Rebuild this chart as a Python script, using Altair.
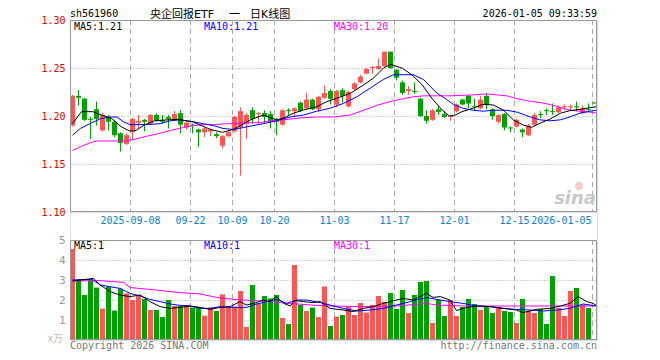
import altair as alt
import pandas as pd

# ---------------- data ----------------
opens = [1.190, 1.221, 1.218, 1.197, 1.207, 1.185, 1.199, 1.194, 1.182, 1.171,
         1.184, 1.193, 1.196, 1.192, 1.201, 1.196, 1.199, 1.196, 1.203, 1.188,
         1.191, 1.186, 1.183, 1.184, 1.181, 1.169, 1.179, 1.184, 1.188, 1.192,
         1.206, 1.202, 1.203, 1.202, 1.196, 1.191, 1.206, 1.205, 1.214, 1.208,
         1.217, 1.207, 1.219, 1.226, 1.212, 1.227, 1.210, 1.228, 1.235, 1.244,
         1.250, 1.249, 1.252, 1.267, 1.248, 1.235, 1.226, 1.226, 1.218, 1.200,
         1.196, 1.207, 1.202, 1.199, 1.205, 1.217, 1.221, 1.210, 1.208, 1.221,
         1.207, 1.194, 1.202, 1.188, 1.189, 1.186, 1.180, 1.191, 1.202, 1.206,
         1.205, 1.204, 1.209, 1.209, 1.210, 1.203, 1.207, 1.214]
closes = [1.221, 1.219, 1.196, 1.196, 1.197, 1.201, 1.194, 1.180, 1.172, 1.180,
          1.197, 1.195, 1.194, 1.201, 1.195, 1.194, 1.197, 1.202, 1.191, 1.193,
          1.190, 1.183, 1.187, 1.186, 1.179, 1.179, 1.183, 1.199, 1.205, 1.201,
          1.197, 1.203, 1.199, 1.194, 1.194, 1.206, 1.205, 1.208, 1.205, 1.217,
          1.207, 1.220, 1.224, 1.218, 1.226, 1.221, 1.225, 1.234, 1.241, 1.249,
          1.251, 1.252, 1.267, 1.250, 1.240, 1.224, 1.228, 1.225, 1.200, 1.195,
          1.206, 1.204, 1.199, 1.200, 1.212, 1.212, 1.213, 1.209, 1.217, 1.212,
          1.200, 1.201, 1.188, 1.187, 1.196, 1.183, 1.190, 1.201, 1.201, 1.205,
          1.204, 1.209, 1.210, 1.210, 1.209, 1.208, 1.206, 1.213]
highs = [1.222, 1.227, 1.219, 1.199, 1.215, 1.203, 1.201, 1.196, 1.183, 1.182,
         1.198, 1.201, 1.197, 1.202, 1.203, 1.201, 1.201, 1.205, 1.206, 1.194,
         1.192, 1.187, 1.188, 1.187, 1.183, 1.180, 1.184, 1.200, 1.209, 1.203,
         1.209, 1.204, 1.206, 1.205, 1.198, 1.207, 1.208, 1.209, 1.215, 1.224,
         1.218, 1.221, 1.232, 1.228, 1.227, 1.229, 1.226, 1.235, 1.243, 1.250,
         1.252, 1.260, 1.267, 1.267, 1.249, 1.237, 1.231, 1.235, 1.219, 1.206,
         1.207, 1.210, 1.205, 1.201, 1.213, 1.218, 1.222, 1.218, 1.221, 1.224,
         1.208, 1.202, 1.203, 1.189, 1.197, 1.187, 1.192, 1.203, 1.205, 1.208,
         1.213, 1.211, 1.212, 1.212, 1.215, 1.211, 1.213, 1.214]
lows = [1.189, 1.211, 1.195, 1.176, 1.190, 1.184, 1.185, 1.178, 1.163, 1.170,
        1.175, 1.187, 1.184, 1.191, 1.194, 1.192, 1.187, 1.195, 1.182, 1.186,
        1.182, 1.168, 1.178, 1.179, 1.177, 1.166, 1.178, 1.183, 1.138, 1.176,
        1.192, 1.192, 1.192, 1.187, 1.180, 1.190, 1.201, 1.199, 1.204, 1.207,
        1.206, 1.204, 1.218, 1.212, 1.209, 1.214, 1.209, 1.227, 1.234, 1.244,
        1.244, 1.248, 1.251, 1.249, 1.237, 1.222, 1.222, 1.223, 1.199, 1.192,
        1.195, 1.201, 1.198, 1.195, 1.204, 1.211, 1.208, 1.205, 1.207, 1.207,
        1.196, 1.192, 1.185, 1.183, 1.188, 1.178, 1.179, 1.190, 1.198, 1.201,
        1.201, 1.203, 1.206, 1.206, 1.205, 1.202, 1.204, 1.213]
volumes = [4.55, 3.03, 2.25, 3.00, 2.62, 1.57, 2.67, 1.47, 2.57, 2.33,
           2.00, 2.22, 2.05, 1.50, 1.50, 1.15, 2.00, 1.70, 1.70, 1.75,
           1.62, 1.63, 1.22, 1.63, 1.45, 2.28, 1.67, 1.67, 2.45, 0.65,
           2.75, 1.83, 2.20, 2.08, 2.25, 1.10, 0.80, 3.75, 1.75, 1.45,
           1.62, 1.15, 2.67, 0.70, 1.17, 1.25, 1.67, 1.25, 1.85, 1.37,
           1.75, 2.20, 1.90, 2.35, 1.55, 2.50, 1.35, 2.25, 2.90, 2.95,
           0.85, 2.00, 1.20, 2.00, 1.20, 1.65, 2.05, 1.80, 1.50, 1.70,
           1.35, 1.65, 1.45, 1.40, 0.85, 2.05, 1.45, 1.35, 1.55, 0.80,
           3.20, 1.60, 1.20, 2.45, 2.60, 1.75, 1.60, 0.05]

# moving-average curves, read at sample positions (candle index)
ma5_idx = [0, 1.5, 3.4, 4.8, 6.5, 8.1, 9.5, 10.4, 12, 13.7, 15.4, 17.6, 20, 23, 25, 26.8, 27.9,
           29.6, 31.8, 34, 35.1, 36.8, 38.5, 40.7, 42.4, 44, 46.3, 48.5, 50.1, 51.8, 53,
           55, 56.6, 58.3, 59.9, 61.6, 62.8, 63.8, 64.9, 66.7, 68.4, 70.1, 71.8, 73.5,
           75.1, 76.5, 77.9, 79.6, 81.3, 82.9, 84.6, 86.3, 87.4]
ma5_val = [1.192, 1.2045, 1.2045, 1.201, 1.1976, 1.1889, 1.1844, 1.1844, 1.1906, 1.1951, 1.1958,
           1.1965, 1.194, 1.186, 1.183, 1.186, 1.1896, 1.1958, 1.201, 1.196, 1.1976,
           1.2028, 1.2063, 1.2097, 1.215, 1.2184, 1.2236, 1.2323, 1.2392, 1.2497, 1.2538,
           1.2497, 1.2427, 1.2323, 1.2184, 1.2063, 1.200, 1.201, 1.2045, 1.208, 1.2122,
           1.2115, 1.2063, 1.1958, 1.1906, 1.1882, 1.1924, 1.1969, 1.2028, 1.2056,
           1.2069, 1.2087, 1.2097]
ma10_idx = [0, 1.3, 2.9, 4.6, 6.3, 7.4, 8.5, 9.6, 12.4, 14.6, 16.3, 17.9, 20.1, 21.8, 23.5,
            25.1, 26.8, 28.5, 30.1, 31.8, 34, 36.3, 38.5, 40.7, 42.9, 45.1, 47.4, 49.6,
            51.8, 53.5, 55.1, 56.8, 58.5, 60.7, 62.4, 63.5, 65.1, 66.8, 68.5, 70.1, 72.4,
            74.1, 76.3, 77.9, 79.6, 81.3, 82.9, 84.6, 86.3, 87.4]
ma10_val = [1.180, 1.187, 1.192, 1.197, 1.199, 1.199, 1.194, 1.191, 1.191, 1.192, 1.195,
            1.196, 1.194, 1.192, 1.190, 1.187, 1.186, 1.188, 1.190, 1.192, 1.195, 1.199,
            1.201, 1.205, 1.208, 1.213, 1.220, 1.229, 1.238, 1.243, 1.243, 1.243, 1.238,
            1.224, 1.217, 1.212, 1.208, 1.206, 1.205, 1.206, 1.206, 1.204, 1.199, 1.196,
            1.195, 1.196, 1.199, 1.203, 1.205, 1.206]
ma30_idx = [0, 1.3, 2.9, 4, 6.3, 8.8, 10.5, 12.4, 14.6, 16.3, 18.5, 20.1, 21.8, 23.5, 25.7,
            27.4, 29, 31.3, 32.9, 35.1, 37.9, 40.7, 43.5, 46.3, 48.5, 50.7, 52.9, 55.1,
            56.8, 58.5, 62.9, 66.8, 69, 70.7, 72.4, 74.1, 75.7, 77.9, 79.6, 81.3, 82.9,
            84.6, 86.3, 87.4]
ma30_val = [1.164, 1.168, 1.172, 1.174, 1.174, 1.174, 1.176, 1.179, 1.182, 1.185, 1.188,
            1.190, 1.191, 1.191, 1.192, 1.192, 1.193, 1.193, 1.195, 1.196, 1.198, 1.199,
            1.199, 1.201, 1.206, 1.211, 1.215, 1.218, 1.220, 1.221, 1.221, 1.222, 1.223,
            1.222, 1.221, 1.218, 1.216, 1.214, 1.212, 1.209, 1.206, 1.205, 1.204, 1.203]

vma5_idx = [0, 3.5, 4.6, 6.3, 7.9, 9.6, 11.3, 12.9, 14.6, 16.3, 17.9, 19.6, 21.3, 22.9, 24.6,
            26.3, 27.9, 29, 30.2, 31.8, 32.9, 34, 35.2, 36.3, 37.1, 38.5, 40.1, 41.3, 42.9,
            45.1, 46.8, 48.5, 50.1, 51.8, 54, 55.1, 56.8, 59, 60.1, 61.3, 62.9, 64, 65.7,
            67.4, 69.6, 71.8, 74, 75.1, 77.3, 79.6, 81.3, 82.9, 84.3, 85.7, 86.8, 87.4]
vma5_val = [2.95, 3.08, 2.75, 2.42, 2.25, 2.17, 2.25, 1.92, 1.67, 1.58, 1.63, 1.70, 1.63,
            1.53, 1.63, 1.67, 1.92, 1.75, 1.83, 2.00, 1.92, 2.17, 1.83, 1.70, 1.97, 1.92,
            1.87, 1.92, 1.58, 1.50, 1.42, 1.58, 1.67, 1.83, 2.00, 2.08, 2.00, 2.33, 2.13,
            2.17, 2.00, 1.47, 1.63, 1.70, 1.67, 1.58, 1.50, 1.37, 1.53, 1.58, 1.70, 1.83,
            2.17, 1.92, 1.83, 1.70]
vma10_idx = [0, 3.3, 4.6, 7.9, 9.6, 11.3, 12.9, 14.6, 16.3, 17.9, 19.6, 21.3, 22.9, 24.6,
             26.8, 29, 30.7, 32.4, 34, 35.7, 37.4, 39, 41.3, 42.9, 45.1, 47.4, 49.6, 51.8,
             54, 56.3, 59, 60.7, 62.9, 65.1, 67.4, 69.6, 71.8, 74, 76.3, 78.5, 80.7, 82.9,
             85.1, 87.4]
vma10_val = [3.00, 3.03, 2.75, 2.58, 2.33, 2.20, 2.03, 1.92, 1.80, 1.73, 1.70, 1.58, 1.58,
             1.67, 1.63, 1.63, 1.80, 1.92, 2.03, 1.83, 2.00, 2.00, 1.87, 1.75, 1.58, 1.45,
             1.50, 1.58, 1.75, 1.92, 2.13, 2.03, 1.92, 1.83, 1.70, 1.67, 1.58, 1.53, 1.50,
             1.45, 1.50, 1.58, 1.80, 1.70]
vma30_idx = [0, 4.6, 8.5, 9.6, 12.9, 17.9, 21.3, 24, 26.8, 30.2, 33.5, 36.3, 39.6, 42.9,
             48.5, 54, 59, 60.7, 65.1, 87.4]
vma30_val = [2.95, 2.97, 2.88, 2.62, 2.53, 2.37, 2.30, 2.13, 2.03, 1.97, 1.90, 1.83, 1.75,
             1.70, 1.67, 1.70, 1.83, 1.75, 1.70, 1.70]

date_labels = ["2025-09-08", "09-22", "10-09", "10-20", "11-03", "11-17", "12-01",
               "12-15", "2026-01-05"]
date_index = [10, 20, 27, 34, 44, 54, 64, 74, 87]

price_ticks = [1.10, 1.15, 1.20, 1.25, 1.30]
vol_ticks = [1, 2, 3, 4, 5]

# ---------------- styling ----------------
RED = "#ff5555"
GREEN = "#00a000"
BLUE_TXT = "#0b82d0"
GRID = "#aaaaaa"
BORDER = "#999999"
MONO = "DejaVu Sans Mono"
W = 527
XMAX = 87.833

x_scale = alt.Scale(domain=[0, XMAX], nice=False, zero=False)
p_scale = alt.Scale(domain=[1.10, 1.30], range=[192, 0], nice=False, zero=False)
v_scale = alt.Scale(domain=[0, 5], range=[320, 220], nice=False, zero=False)

price_axis = alt.Axis(values=price_ticks, format=".2f", labelColor="#e00000", labelFont=MONO,
                      labelFontSize=10, ticks=False, domain=False, grid=True, orient="left",
                      gridDash=[1, 2], gridColor=GRID, labelPadding=5, title=None)
vol_axis = alt.Axis(values=vol_ticks, format="d", labelColor="#999999", labelFont=MONO,
                    labelFontSize=11, ticks=False, domain=False, grid=True, orient="left",
                    gridDash=[1, 2], gridColor=GRID, labelPadding=5, title=None)

n = len(closes)
df = pd.DataFrame({"i": list(range(n)), "open": opens, "close": closes,
                   "high": highs, "low": lows, "vol": volumes})
df["dir"] = ["up" if c > o else "down" for o, c in zip(opens, closes)]

color = alt.Color("dir:N", scale=alt.Scale(domain=["up", "down"], range=[RED, GREEN]),
                  legend=None)

base = alt.Chart(df).transform_calculate(
    x1="datum.i",
    x2="datum.i + 0.8333",
    xc="datum.i + 0.4167",
    bbot="min(datum.open, datum.close)",
    btop="max(max(datum.open, datum.close), min(datum.open, datum.close) + 0.0011)",
)

X = lambda f: alt.X(f, scale=x_scale, axis=None)
PY = lambda f: alt.Y(f, scale=p_scale, axis=price_axis)
VY = lambda f: alt.Y(f, scale=v_scale, axis=vol_axis)

wicks = base.mark_rule(strokeWidth=1).encode(
    x=X("xc:Q"), y=PY("low:Q"), y2="high:Q", color=color,
)
bodies = base.mark_rect().encode(
    x=X("x1:Q"), x2="x2:Q", y=PY("bbot:Q"), y2="btop:Q", color=color,
)


def ma_line(idx, val, col, yenc):
    d = pd.DataFrame({"idx": idx, "v": val})
    return alt.Chart(d).transform_calculate(xc="datum.idx + 0.4167").mark_line(
        color=col, strokeWidth=1, interpolate="linear"
    ).encode(x=X("xc:Q"), y=yenc("v:Q"))


gdf = pd.DataFrame({"idx": date_index, "label": date_labels})


def vgrid(y0, y1):
    return alt.Chart(gdf).transform_calculate(gx="datum.idx + 0.0833").mark_rule(
        color=GRID, strokeDash=[5, 4], strokeWidth=1
    ).encode(x=X("gx:Q"), y=alt.value(y0), y2=alt.value(y1))


def border(y0, y1):
    return alt.Chart(pd.DataFrame({"k": [0]})).mark_rect(
        filled=False, stroke=BORDER, strokeWidth=1
    ).encode(x=alt.value(0.5), x2=alt.value(W - 0.5), y=alt.value(y0), y2=alt.value(y1))


price_layer = alt.layer(
    vgrid(0, 192), wicks, bodies,
    ma_line(ma30_idx, ma30_val, "#ff00ff", PY),
    ma_line(ma10_idx, ma10_val, "#0000ff", PY),
    ma_line(ma5_idx, ma5_val, "#000000", PY),
    border(0.5, 191.5),
)

vbars = base.mark_rect().encode(
    x=X("x1:Q"), x2="x2:Q", y=VY("vol:Q"), y2=alt.datum(0), color=color,
)
vol_layer = alt.layer(
    vgrid(220, 320), vbars,
    ma_line(vma30_idx, vma30_val, "#ff00ff", VY),
    ma_line(vma10_idx, vma10_val, "#0000ff", VY),
    ma_line(vma5_idx, vma5_val, "#000000", VY),
    border(220.5, 319.5),
)


def txt(s, x, y, col="#000000", align="left", size=10, font=MONO, baseline="middle", **kw):
    return alt.Chart(pd.DataFrame({"t": [s]})).mark_text(
        align=align, baseline=baseline, font=font, fontSize=size, color=col, **kw
    ).encode(text="t:N", x=alt.value(x), y=alt.value(y))


dates_mid = alt.Chart(gdf).transform_filter("datum.idx < 87").transform_calculate(
    gx="datum.idx + 0.0833").mark_text(
    align="center", baseline="middle", font=MONO, fontSize=10, color=BLUE_TXT
).encode(x=X("gx:Q"), y=alt.value(201), text="label:N")
dates_end = alt.Chart(gdf).transform_filter("datum.idx >= 87").transform_calculate(
    gx="datum.idx + 0.0833").mark_text(
    align="right", baseline="middle", font=MONO, fontSize=10, color=BLUE_TXT, dx=-1
).encode(x=X("gx:Q"), y=alt.value(201), text="label:N")

TITLE_FONT = "DejaVu Sans, Noto Sans CJK SC"
texts = [
    txt("sh561960", 0, -6),
    txt("央企回报ETF", 80, -5, size=11, font=TITLE_FONT),
    txt("一", 159, -5, size=11, font=TITLE_FONT),
    txt("日K线图", 180, -5, size=11, font=TITLE_FONT),
    txt("2026-01-05 09:33:59", W, -6, align="right"),
    txt("MA5:1.21", 4, 6.5),
    txt("MA10:1.21", 134, 6.5, col="#0000ff"),
    txt("MA30:1.20", 264, 6.5, col="#ff00ff"),
    txt("MA5:1", 4, 226),
    txt("MA10:1", 134, 226, col="#0000ff"),
    txt("MA30:1", 264, 226, col="#ff00ff"),
    txt("x万", -7, 319, col="#bbbbbb", align="right", size=10, font="Noto Sans CJK SC"),
    txt("Copyright 2026 SINA.COM", 0, 326, col="#777777"),
    txt("http://finance.sina.com.cn", W, 326, col="#777777", align="right"),
    txt("sina", 526, 179, col="#c8c8c8", align="right", size=18, font="DejaVu Sans",
        fontStyle="italic", fontWeight="bold"),
]
eye = alt.Chart(pd.DataFrame({"k": [0]})).mark_point(
    filled=True, size=70, color="#f2b8b8", shape="circle"
).encode(x=alt.value(509), y=alt.value(166))

chart = alt.layer(
    price_layer, vol_layer, dates_mid, dates_end, eye, *texts
).resolve_scale(y="independent").properties(
    width=W, height=320,
    autosize=alt.AutoSizeParams(type="none"),
    padding={"left": 62, "top": 12, "right": 55, "bottom": 12},
).configure_view(stroke=None).configure(background="white")

chart.save("out.html", embed_options={"renderer": "svg", "actions": False})
